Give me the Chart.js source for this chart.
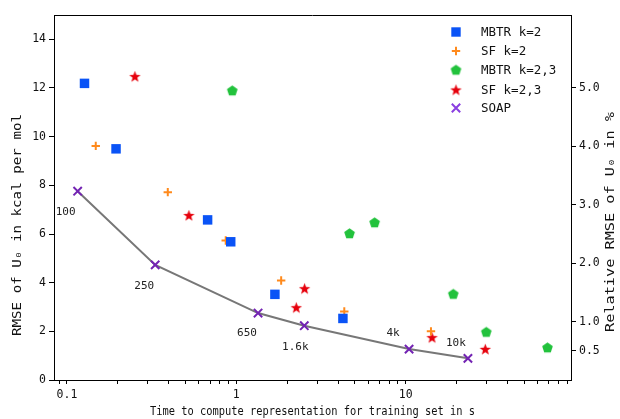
<!DOCTYPE html>
<html>
<head>
<meta charset="utf-8">
<script src="https://cdn.jsdelivr.net/npm/chart.js@4.4.1/dist/chart.umd.min.js"></script>
<style>
    html, body { margin: 0; padding: 0; background: #fff; }
    canvas { display: block; }
</style>
</head>
<body>
<canvas id="timingChart" width="620" height="419"></canvas>
<script>
// values: time in s (x), RMSE in kcal/mol (y)
const mbtr2Time = [0.127, 0.195, 0.677, 0.927, 1.69, 4.26];
const mbtr2Rmse = [12.19, 9.50, 6.58, 5.68, 3.52, 2.53];

const sf2Time = [0.148, 0.394, 0.866, 1.84, 4.34, 14.1];
const sf2Rmse = [9.62, 7.72, 5.73, 4.09, 2.82, 2.00];

const mbtr23Time = [0.947, 4.66, 6.55, 19.1, 29.9, 68.7];
const mbtr23Rmse = [11.89, 6.02, 6.47, 3.53, 1.97, 1.33];

const sf23Time = [0.252, 0.525, 2.26, 2.53, 14.3, 29.5];
const sf23Rmse = [12.47, 6.76, 2.97, 3.75, 1.74, 1.26];

const soapTime = [0.1157, 0.332, 1.344, 2.52, 10.47, 23.3];
const soapRmse = [7.76, 4.73, 2.75, 2.23, 1.27, 0.89];
const soapLabels = ["100", "250", "650", "1.6k", "4k", "10k"];

const seriesNames = ["MBTR k=2", "SF k=2", "MBTR k=2,3", "SF k=2,3", "SOAP"];

// axis ticks
const xLabelTicks = [0.1, 1, 10];
const leftTicks = [0, 2, 4, 6, 8, 10, 12, 14];
const rightTicks = [0.5, 1, 2, 3, 4, 5];
const kcalPerPercent = 2.40; // 1 % of U0 in kcal/mol (right axis)

const xMin = 0.0839, xMax = 94.6;
const yMax = 15;

const colors = {
    blue: "#0a53f6",
    orange: "#ff8a1c",
    green: "#22c23c",
    red: "#e6000c",
    purple: "#7323b3",
    line: "#777777"
};
const monoFont = '"DejaVu Sans Mono", "Liberation Mono", monospace';

// minor ticks of the log axis, one set per decade
const xTickValues = [];
[0.01, 0.1, 1, 10].forEach(d => {
    for (let k = 1; k <= 9; k++) {
        const v = k === 1 ? d : k * d;
        if (v >= xMin && v <= xMax) xTickValues.push(v);
    }
});

const pairs = (xs, ys) => xs.map((x, i) => ({ x: x, y: ys[i] }));

// small canvases for marker shapes Chart.js doesn't have
function makeShape(kind, color) {
    const c = document.createElement("canvas");
    c.width = 13;
    c.height = 13;
    const g = c.getContext("2d");
    g.fillStyle = color;
    g.beginPath();
    const cx = 6.5, cy = 6.8;
    if (kind === "pentagon") {
        for (let i = 0; i < 5; i++) {
            const a = -Math.PI / 2 + i * 2 * Math.PI / 5;
            const px = cx + 5.6 * Math.cos(a), py = cy + 5.6 * Math.sin(a);
            i ? g.lineTo(px, py) : g.moveTo(px, py);
        }
    } else {
        for (let i = 0; i < 10; i++) {
            const a = -Math.PI / 2 + i * Math.PI / 5;
            const r = i % 2 ? 2.5 : 6.0;
            const px = cx + r * Math.cos(a), py = cy + r * Math.sin(a);
            i ? g.lineTo(px, py) : g.moveTo(px, py);
        }
    }
    g.closePath();
    g.fill();
    return c;
}
const pentagonImg = makeShape("pentagon", colors.green);
const starImg = makeShape("star", colors.red);

// legend inside the plot, drawn by hand
const legendPlugin = {
    id: "innerLegend",
    afterDraw(chart) {
        const ctx = chart.ctx;
        const rows = [32, 51, 70, 90, 108];
        const mx = 456, tx = 481;
        ctx.save();
        ctx.font = "12.5px " + monoFont;
        ctx.textBaseline = "middle";
        ctx.fillStyle = "#111";
        seriesNames.forEach((name, i) => {
            const y = rows[i];
            if (i === 0) {
                ctx.fillStyle = colors.blue;
                ctx.fillRect(mx - 4.7, y - 4.7, 9.4, 9.4);
            } else if (i === 1) {
                ctx.strokeStyle = colors.orange;
                ctx.lineWidth = 2;
                ctx.beginPath();
                ctx.moveTo(mx - 4.2, y); ctx.lineTo(mx + 4.2, y);
                ctx.moveTo(mx, y - 4.2); ctx.lineTo(mx, y + 4.2);
                ctx.stroke();
            } else if (i === 2) {
                ctx.drawImage(pentagonImg, mx - 6.5, y - 6.5);
            } else if (i === 3) {
                ctx.drawImage(starImg, mx - 6.5, y - 6.5);
            } else {
                ctx.strokeStyle = "#8a3fe0";
                ctx.lineWidth = 2;
                ctx.beginPath();
                ctx.moveTo(mx - 4.2, y - 4.2); ctx.lineTo(mx + 4.2, y + 4.2);
                ctx.moveTo(mx - 4.2, y + 4.2); ctx.lineTo(mx + 4.2, y - 4.2);
                ctx.stroke();
            }
            ctx.fillStyle = "#111";
            ctx.fillText(name, tx, y + 1);
        });
        ctx.restore();
    }
};

// training set sizes next to the SOAP points
const soapLabelPlugin = {
    id: "soapLabels",
    afterDatasetsDraw(chart) {
        const offsets = [[-12, 21], [-11, 21], [-11, 20], [-9, 21], [-16, -16], [-12, -15]];
        const meta = chart.getDatasetMeta(4);
        const ctx = chart.ctx;
        ctx.save();
        ctx.font = "11px " + monoFont;
        ctx.fillStyle = "#222";
        ctx.textAlign = "center";
        ctx.textBaseline = "middle";
        meta.data.forEach((pt, i) => {
            ctx.fillText(soapLabels[i], pt.x + offsets[i][0], pt.y + offsets[i][1]);
        });
        ctx.restore();
    }
};

// axis titles and the top edge of the frame
function drawStretched(ctx, text, x, y, angle, size, length) {
    ctx.save();
    ctx.font = size + "px " + monoFont;
    const w = ctx.measureText(text).width;
    ctx.translate(x, y);
    ctx.rotate(angle);
    ctx.scale(length / w, 1);
    ctx.textAlign = "center";
    ctx.textBaseline = "middle";
    ctx.fillStyle = "#111";
    ctx.fillText(text, 0, 0);
    ctx.restore();
}

const framePlugin = {
    id: "frameAndTitles",
    afterDraw(chart) {
        const ctx = chart.ctx;
        const a = chart.chartArea;
        ctx.save();
        ctx.strokeStyle = "#000";
        ctx.lineWidth = 1;
        ctx.beginPath();
        ctx.moveTo(a.left, a.top + 0.5);
        ctx.lineTo(a.right, a.top + 0.5);
        ctx.stroke();
        ctx.restore();
        drawStretched(ctx, "Time to compute representation for training set in s", (a.left + a.right) / 2, 412, 0, 12, 325);
        drawStretched(ctx, "RMSE of U\u2080 in kcal per mol", 18, 225, -Math.PI / 2, 12.5, 222);
        drawStretched(ctx, "Relative RMSE of U\u2080 in %", 611, 222, -Math.PI / 2, 12.5, 220);
    }
};

const tickFont = { family: monoFont, size: 11.5 };

new Chart(document.getElementById("timingChart").getContext("2d"), {
    type: "scatter",
    data: {
        datasets: [
            {
                label: seriesNames[0],
                data: pairs(mbtr2Time, mbtr2Rmse),
                pointStyle: "rect",
                pointRadius: 6.7,
                pointBackgroundColor: colors.blue,
                pointBorderColor: colors.blue,
                pointBorderWidth: 0
            },
            {
                label: seriesNames[1],
                data: pairs(sf2Time, sf2Rmse),
                pointStyle: "cross",
                pointRadius: 4.2,
                pointBorderColor: colors.orange,
                pointBorderWidth: 2
            },
            {
                label: seriesNames[2],
                data: pairs(mbtr23Time, mbtr23Rmse),
                pointStyle: pentagonImg,
                pointRadius: 6
            },
            {
                label: seriesNames[3],
                data: pairs(sf23Time, sf23Rmse),
                pointStyle: starImg,
                pointRadius: 6
            },
            {
                label: seriesNames[4],
                data: pairs(soapTime, soapRmse),
                showLine: true,
                borderColor: colors.line,
                borderWidth: 2,
                pointStyle: "crossRot",
                pointRadius: 5.9,
                pointBorderColor: colors.purple,
                pointBorderWidth: 2
            }
        ]
    },
    options: {
        responsive: false,
        animation: false,
        events: [],
        layout: { padding: { top: 15, left: 0, right: 0, bottom: 0 } },
        plugins: {
            legend: { display: false },
            tooltip: { enabled: false }
        },
        scales: {
            x: {
                type: "logarithmic",
                min: xMin,
                max: xMax,
                afterBuildTicks: s => {
                    s.ticks = xTickValues.map(v => ({ value: v, major: xLabelTicks.includes(v) }));
                },
                ticks: {
                    autoSkip: false,
                    maxRotation: 0,
                    padding: 4,
                    font: tickFont,
                    color: "#111",
                    callback: v => xLabelTicks.includes(v) ? String(v) : ""
                },
                grid: { drawOnChartArea: false, tickLength: 4, tickColor: "#000" },
                border: { color: "#000", width: 1 },
                afterFit: s => { s.height = 39; }
            },
            y: {
                position: "left",
                min: 0,
                max: yMax,
                afterBuildTicks: s => { s.ticks = leftTicks.map(v => ({ value: v })); },
                ticks: { padding: 3, font: tickFont, color: "#111", callback: v => String(v) },
                grid: { drawOnChartArea: false, tickLength: 5, tickColor: "#000" },
                border: { color: "#000", width: 1 },
                afterFit: s => { s.width = 54; }
            },
            y1: {
                position: "right",
                min: 0,
                max: yMax / kcalPerPercent,
                afterBuildTicks: s => { s.ticks = rightTicks.map(v => ({ value: v })); },
                ticks: { padding: 3, font: tickFont, color: "#111", callback: v => v.toFixed(1) },
                grid: { drawOnChartArea: false, tickLength: 5, tickColor: "#000" },
                border: { color: "#000", width: 1 },
                afterFit: s => { s.width = 49; }
            }
        }
    },
    plugins: [legendPlugin, soapLabelPlugin, framePlugin]
});
</script>
</body>
</html>
